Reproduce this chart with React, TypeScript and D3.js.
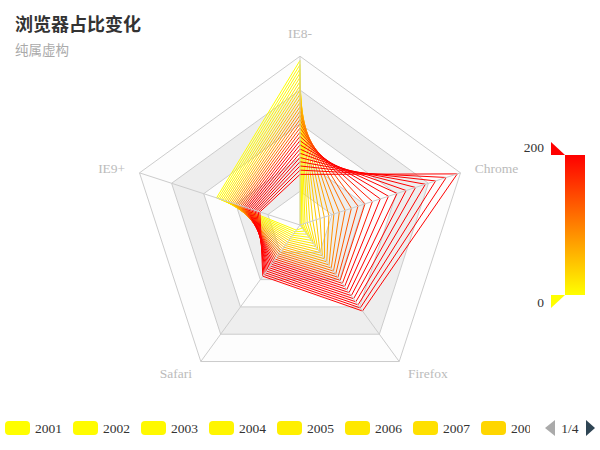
import { useRef, useEffect } from "react";
import * as d3 from "d3";

const indicators = ["IE8-", "IE9+", "Safari", "Firefox", "Chrome"];
const indicatorMax = 400;

const years = [
  "2001", "2002", "2003", "2004", "2005", "2006", "2007", "2008", "2009", "2010",
  "2011", "2012", "2013", "2014", "2015", "2016", "2017", "2018", "2019", "2020",
  "2021", "2022", "2023", "2024", "2025", "2026", "2027", "2028",
];

const ie8Values = [390, 380, 370, 360, 350, 340, 330, 320, 310, 300, 290, 280, 270, 260, 250, 240, 230, 220, 210, 200, 190, 180, 170, 160, 150, 140, 130, 120];
const ie9Values = [208, 204, 200, 196, 192, 188, 184, 180, 176, 172, 168, 164, 160, 156, 152, 148, 144, 140, 136, 132, 128, 124, 120, 116, 112, 108, 104, 100];
const safariValues = [15, 20, 25, 30, 35, 40, 45, 50, 55, 60, 65, 70, 75, 80, 85, 90, 95, 100, 105, 110, 115, 120, 125, 130, 135, 140, 145, 150];
const firefoxValues = [9, 18, 27, 36, 45, 54, 63, 72, 81, 90, 99, 108, 117, 126, 135, 144, 153, 162, 171, 180, 189, 198, 207, 216, 225, 234, 243, 252];
const chromeValues = [0.5, 2, 4.5, 8, 12.5, 18, 24.5, 32, 40.5, 50, 60.5, 72, 84.5, 98, 112.5, 128, 144.5, 162, 180.5, 200, 220.5, 242, 264.5, 288, 312.5, 338, 364.5, 392];

const visualMin = 0;
const visualMax = 200;

const FONT = "'Liberation Serif', 'Noto Sans CJK SC', serif";

export default function App() {
  const svgRef = useRef<SVGSVGElement>(null);

  useEffect(() => {
    const svg = d3.select(svgRef.current);
    svg.selectAll("*").remove();

    const width = 600;
    const height = 450;
    const cx = width / 2;
    const cy = height / 2;
    const radius = (Math.min(width, height) / 2) * 0.75;
    const n = indicators.length;

    const r = d3.scaleLinear().domain([0, indicatorMax]).range([0, radius]);
    const color = d3.scaleLinear<string>()
      .domain([visualMin, visualMax])
      .range(["yellow", "red"])
      .interpolate(d3.interpolateRgb)
      .clamp(true);

    // angle measured clockwise from 12 o'clock, indicators go counter-clockwise
    const angle = (k: number) => (-k * 2 * Math.PI) / n;
    const pt = (k: number, rr: number): [number, number] => [
      cx + rr * Math.sin(angle(k)),
      cy - rr * Math.cos(angle(k)),
    ];

    // title
    svg.append("text")
      .attr("x", 15).attr("y", 24.5)
      .attr("dominant-baseline", "central")
      .style("font-family", FONT)
      .style("font-size", "18px")
      .style("font-weight", "bold")
      .style("fill", "#333")
      .text("浏览器占比变化");
    svg.append("text")
      .attr("x", 15).attr("y", 50)
      .attr("dominant-baseline", "central")
      .style("font-family", FONT)
      .style("font-size", "13.5px")
      .style("fill", "#aaa")
      .text("纯属虚构");

    const g = svg.append("g").attr("transform", `translate(${cx},${cy})`);
    const ring = d3.lineRadial<number>()
      .angle((_, k) => angle(k))
      .radius((d) => d)
      .curve(d3.curveLinearClosed);

    // split areas + lines
    for (let s = 5; s >= 1; s--) {
      const rr = (radius * s) / 5;
      g.append("path")
        .attr("d", ring(indicators.map(() => rr)))
        .attr("fill", (s - 1) % 2 === 0 ? "#fdfdfd" : "#eeeeee")
        .attr("stroke", "#ccc")
        .attr("stroke-width", 1);
    }
    indicators.forEach((_, k) => {
      const [x, y] = pt(k, radius);
      svg.append("line")
        .attr("x1", cx).attr("y1", cy)
        .attr("x2", x).attr("y2", y)
        .attr("stroke", "#ccc");
    });

    // axis names
    indicators.forEach((name, k) => {
      const [x, y] = pt(k, radius + 15);
      const sx = Math.sin(angle(k));
      const cyDir = -Math.cos(angle(k));
      const anchor = Math.abs(sx) < 0.01 ? "middle" : sx > 0 ? "start" : "end";
      const t = svg.append("text")
        .attr("x", x)
        .attr("text-anchor", anchor)
        .style("font-family", FONT)
        .style("font-size", "13.5px")
        .style("fill", "#bbb")
        .text(name);
      if (Math.abs(sx) < 0.01 && cyDir < 0) {
        t.attr("y", y - 3);
      } else {
        t.attr("y", y).attr("dominant-baseline", "central");
      }
    });

    // series
    const line = d3.lineRadial<number>()
      .angle((_, k) => angle(k))
      .radius((d) => r(d))
      .curve(d3.curveLinearClosed);

    years.forEach((year, i) => {
      const vals = [ie8Values[i], ie9Values[i], safariValues[i], firefoxValues[i], chromeValues[i]];
      g.append("path")
        .attr("d", line(vals))
        .attr("fill", "none")
        .attr("stroke", color(chromeValues[i]))
        .attr("stroke-width", 1);
    });

    // visual map
    const defs = svg.append("defs");
    const grad = defs.append("linearGradient")
      .attr("id", "vm-grad")
      .attr("x1", 0).attr("y1", 1).attr("x2", 0).attr("y2", 0);
    grad.append("stop").attr("offset", "0%").attr("stop-color", color(visualMin));
    grad.append("stop").attr("offset", "100%").attr("stop-color", color(visualMax));

    const vmY = d3.scaleLinear().domain([visualMin, visualMax]).range([295, 155]);
    svg.append("rect")
      .attr("x", 565).attr("y", vmY(visualMax))
      .attr("width", 20).attr("height", vmY(visualMin) - vmY(visualMax))
      .attr("fill", "url(#vm-grad)");
    const topY = vmY(visualMax);
    const botY = vmY(visualMin);
    svg.append("path")
      .attr("d", `M551,${topY - 13}L551,${topY}L565,${topY}Z`)
      .attr("fill", color(visualMax));
    svg.append("path")
      .attr("d", `M551,${botY}L565,${botY}L551,${botY + 13}Z`)
      .attr("fill", color(visualMin));
    svg.append("text")
      .attr("x", 544).attr("y", topY - 8)
      .attr("text-anchor", "end")
      .attr("dominant-baseline", "central")
      .style("font-family", FONT)
      .style("font-size", "13.5px")
      .style("fill", "#333")
      .text(String(visualMax));
    svg.append("text")
      .attr("x", 544).attr("y", botY + 7)
      .attr("text-anchor", "end")
      .attr("dominant-baseline", "central")
      .style("font-family", FONT)
      .style("font-size", "13.5px")
      .style("fill", "#333")
      .text(String(visualMin));

    // legend (scroll)
    defs.append("clipPath").attr("id", "legend-clip")
      .append("rect").attr("x", 0).attr("y", 410).attr("width", 530).attr("height", 40);
    const legend = svg.append("g").attr("clip-path", "url(#legend-clip)");
    let lx = 5;
    const ly = 428;
    years.forEach((year, i) => {
      if (lx > 540) return;
      const item = legend.append("g").attr("transform", `translate(${lx},${ly})`);
      item.append("rect")
        .attr("x", 0).attr("y", -7)
        .attr("width", 25).attr("height", 14)
        .attr("rx", 4)
        .attr("fill", color(chromeValues[i]));
      const t = item.append("text")
        .attr("x", 30).attr("y", 0)
        .attr("dominant-baseline", "central")
        .style("font-family", FONT)
        .style("font-size", "13.5px")
        .style("fill", "#333")
        .text(year);
      const w = (t.node() as SVGTextElement).getComputedTextLength();
      lx += 30 + w + 11;
    });

    // page controls
    svg.append("path")
      .attr("d", `M555,${ly - 8}L545,${ly}L555,${ly + 8}Z`)
      .attr("fill", "#aaa");
    svg.append("text")
      .attr("x", 570).attr("y", ly)
      .attr("text-anchor", "middle")
      .attr("dominant-baseline", "central")
      .style("font-family", FONT)
      .style("font-size", "13.5px")
      .style("fill", "#333")
      .text(`1/${Math.ceil(years.length / 8)}`);
    svg.append("path")
      .attr("d", `M586,${ly - 8}L595,${ly}L586,${ly + 8}Z`)
      .attr("fill", "#2f4554");
  }, []);

  return (
    <svg
      ref={svgRef}
      width={600}
      height={450}
      style={{ position: "absolute", left: 0, top: 0, background: "#fff" }}
    ></svg>
  );
}
